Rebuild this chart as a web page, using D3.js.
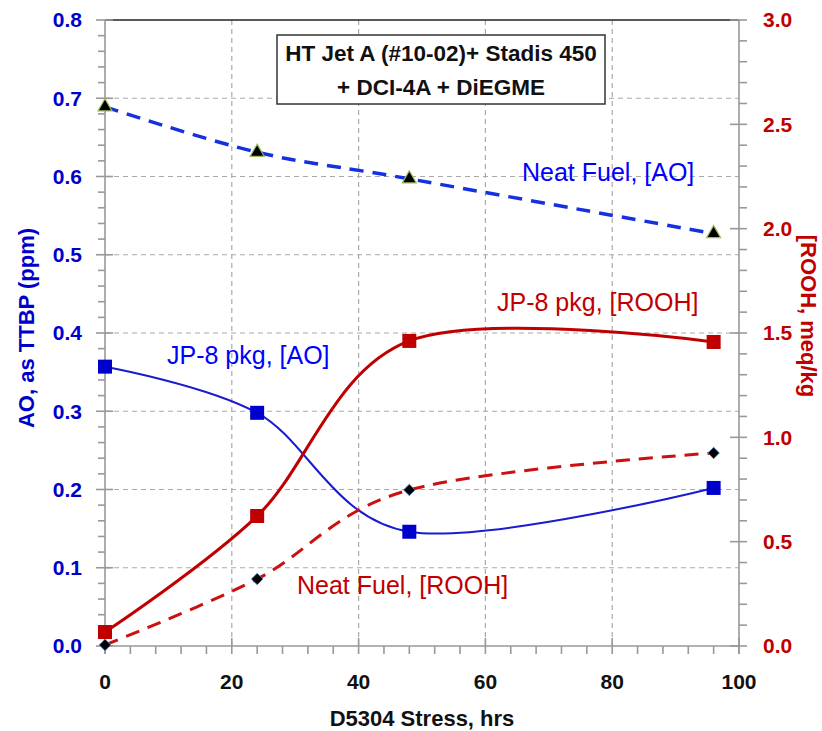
<!DOCTYPE html>
<html lang="en">
<head>
  <meta charset="UTF-8" />
  <title>AO and ROOH vs D5304 stress</title>
  <script src="https://d3js.org/d3.v7.min.js"></script>
  <style>
    body { margin: 0; background: #fff; }
    svg { font-family: "Liberation Sans", Arial, sans-serif; }
    .tick-label { font-size: 21px; font-weight: bold; }
    .series-label { font-size: 25px; }
    .axis-title { font-size: 22px; font-weight: bold; }
    .box-title { font-size: 22.5px; font-weight: bold; }
  </style>
</head>
<body>
<svg width="822" height="731"></svg>

<script>
  // data
  const hours = [0, 24, 48, 96];
  const neatAO = [0.689, 0.631, 0.597, 0.527];
  const jp8AO = [0.357, 0.298, 0.146, 0.202];
  const jp8ROOH = [0.067, 0.623, 1.462, 1.457];
  const neatROOH = [0.005, 0.321, 0.748, 0.925];

  const xTicks = [0, 20, 40, 60, 80, 100];
  const leftTicks = [0, 0.1, 0.2, 0.3, 0.4, 0.5, 0.6, 0.7, 0.8];
  const rightTicks = [0, 0.5, 1.0, 1.5, 2.0, 2.5, 3.0];

  const blue = "#0000FF", darkBlue = "#0000CC", red = "#C00000", gray = "#999";

  const svg = d3.select("svg");
  const pLeft = 105, pRight = 739, pTop = 20, pBottom = 646;

  const x = d3.scaleLinear().domain([0, 100]).range([pLeft, pRight]);
  const yL = d3.scaleLinear().domain([0, 0.8]).range([pBottom, pTop]);
  const yR = d3.scaleLinear().domain([0, 3]).range([pBottom, pTop]);

  // grid
  const grid = svg.append("g").attr("stroke", "#aaa").attr("stroke-width", 1.2).attr("stroke-dasharray", "5,4");
  xTicks.filter(d => d > 0 && d < 100).forEach(d => {
    grid.append("line").attr("x1", x(d)).attr("x2", x(d)).attr("y1", pTop).attr("y2", pBottom);
  });
  leftTicks.filter(d => d > 0 && d < 0.8).forEach(d => {
    grid.append("line").attr("x1", pLeft).attr("x2", pRight).attr("y1", yL(d)).attr("y2", yL(d));
  });

  // top border
  svg.append("line").attr("x1", pLeft).attr("x2", pRight).attr("y1", pTop).attr("y2", pTop)
    .attr("stroke", "#222").attr("stroke-width", 1.5);

  // axes (drawn by hand to get excel-like crossing ticks)
  const ax = svg.append("g").attr("stroke", gray).attr("stroke-width", 1.6);
  ax.append("line").attr("x1", pLeft).attr("x2", pLeft).attr("y1", pTop).attr("y2", pBottom + 8);
  ax.append("line").attr("x1", pRight).attr("x2", pRight).attr("y1", pTop).attr("y2", pBottom + 8);
  ax.append("line").attr("x1", pLeft).attr("x2", pRight).attr("y1", pBottom).attr("y2", pBottom);

  d3.range(0, 0.8001, 0.02).forEach(v => {
    const major = Math.abs(v * 10 - Math.round(v * 10)) < 1e-6;
    ax.append("line").attr("x1", major ? pLeft - 9 : pLeft - 7).attr("x2", major ? pLeft + 8 : pLeft)
      .attr("y1", yL(v)).attr("y2", yL(v));
  });
  d3.range(0, 3.0001, 0.1).forEach(v => {
    const major = Math.abs(v * 2 - Math.round(v * 2)) < 1e-6;
    ax.append("line").attr("x1", major ? pRight - 9 : pRight).attr("x2", pRight + 8)
      .attr("y1", yR(v)).attr("y2", yR(v));
  });
  d3.range(0, 100.001, 4).forEach(v => {
    const major = v % 20 === 0;
    ax.append("line").attr("x1", x(v)).attr("x2", x(v))
      .attr("y1", major ? pBottom - 8 : pBottom).attr("y2", pBottom + 8);
  });

  // tick labels
  svg.append("g").selectAll("text").data(leftTicks).join("text")
    .attr("class", "tick-label").attr("x", 82).attr("y", d => yL(d)).attr("dy", "0.35em")
    .attr("text-anchor", "end").attr("fill", darkBlue).text(d => d.toFixed(1));
  svg.append("g").selectAll("text").data(rightTicks).join("text")
    .attr("class", "tick-label").attr("x", 763).attr("y", d => yR(d)).attr("dy", "0.35em")
    .attr("fill", red).text(d => d.toFixed(1));
  svg.append("g").selectAll("text").data(xTicks).join("text")
    .attr("class", "tick-label").attr("x", d => x(d)).attr("y", 682).attr("dy", "0.35em")
    .attr("text-anchor", "middle").attr("fill", "#111").text(d => d);

  // axis titles
  svg.append("text").attr("class", "axis-title").attr("x", 422).attr("y", 718).attr("dy", "0.35em")
    .attr("text-anchor", "middle").attr("fill", "#111").text("D5304 Stress, hrs");
  svg.append("text").attr("class", "axis-title").attr("transform", "translate(26,328) rotate(-90)")
    .attr("dy", "0.35em").attr("text-anchor", "middle").attr("fill", darkBlue).text("AO, as TTBP (ppm)");
  svg.append("text").attr("class", "axis-title").attr("transform", "translate(809,316) rotate(90)")
    .attr("dy", "0.35em").attr("text-anchor", "middle").attr("fill", red).text("[ROOH, meq/kg");

  // series
  const curve = d3.curveCardinal.tension(0);
  const lineL = d3.line().x((d, i) => x(hours[i])).y(d => yL(d)).curve(curve);
  const lineR = d3.line().x((d, i) => x(hours[i])).y(d => yR(d)).curve(curve);

  svg.append("path").datum(neatAO).attr("d", lineL).attr("fill", "none")
    .attr("stroke", "#1530E0").attr("stroke-width", 3.5).attr("stroke-dasharray", "14,9");
  svg.append("path").datum(jp8AO).attr("d", lineL).attr("fill", "none")
    .attr("stroke", "#1a1ad0").attr("stroke-width", 2);
  svg.append("path").datum(jp8ROOH).attr("d", lineR).attr("fill", "none")
    .attr("stroke", red).attr("stroke-width", 3);
  svg.append("path").datum(neatROOH).attr("d", lineR).attr("fill", "none")
    .attr("stroke", "#CC1010").attr("stroke-width", 3).attr("stroke-dasharray", "14,9");

  // markers
  svg.append("g").selectAll("path").data(neatAO).join("path")
    .attr("transform", (d, i) => `translate(${x(hours[i])},${yL(d)})`)
    .attr("d", d3.symbol(d3.symbolTriangle, 85))
    .attr("fill", "#000").attr("stroke", "#9BBB59").attr("stroke-width", 1.2);
  svg.append("g").selectAll("rect").data(jp8AO).join("rect")
    .attr("x", (d, i) => x(hours[i]) - 7).attr("y", d => yL(d) - 7)
    .attr("width", 14).attr("height", 14).attr("fill", darkBlue);
  svg.append("g").selectAll("rect").data(jp8ROOH).join("rect")
    .attr("x", (d, i) => x(hours[i]) - 7).attr("y", d => yR(d) - 7)
    .attr("width", 14).attr("height", 14).attr("fill", red);
  svg.append("g").selectAll("path").data(neatROOH).join("path")
    .attr("transform", (d, i) => `translate(${x(hours[i])},${yR(d)}) rotate(45)`)
    .attr("d", d3.symbol(d3.symbolSquare, 66))
    .attr("fill", "#000").attr("stroke", "#4F81BD").attr("stroke-width", 0.8);

  // series labels
  const labels = [
    { text: "Neat Fuel, [AO]", x: 522, y: 172, color: blue },
    { text: "JP-8 pkg, [ROOH]", x: 497, y: 302, color: red },
    { text: "JP-8 pkg, [AO]", x: 167, y: 355, color: blue },
    { text: "Neat Fuel, [ROOH]", x: 297, y: 585, color: red }
  ];
  svg.append("g").selectAll("text").data(labels).join("text")
    .attr("class", "series-label").attr("x", d => d.x).attr("y", d => d.y).attr("dy", "0.35em")
    .attr("fill", d => d.color).text(d => d.text);

  // title box
  const box = svg.append("g");
  box.append("rect").attr("x", 277).attr("y", 35).attr("width", 328).attr("height", 69)
    .attr("fill", "#fff").attr("stroke", "#333").attr("stroke-width", 1.5);
  box.append("text").attr("class", "box-title").attr("x", 441).attr("y", 53).attr("dy", "0.35em")
    .attr("text-anchor", "middle").attr("fill", "#111").text("HT Jet A (#10-02)+ Stadis 450");
  box.append("text").attr("class", "box-title").attr("x", 441).attr("y", 87).attr("dy", "0.35em")
    .attr("text-anchor", "middle").attr("fill", "#111").text("+ DCI-4A + DiEGME");
</script>
</body>
</html>
